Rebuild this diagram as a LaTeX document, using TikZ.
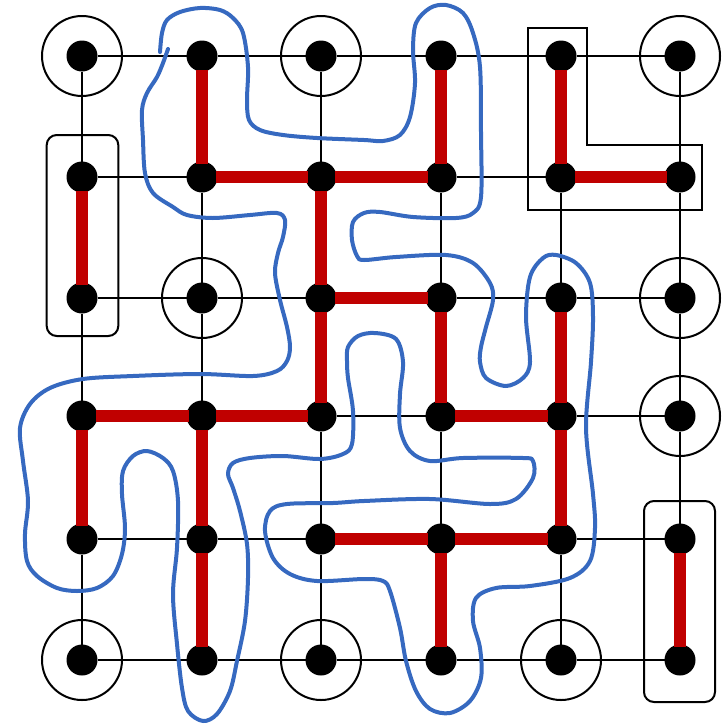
\documentclass[tikz,border=0pt]{standalone}
\definecolor{myred}{RGB}{192,0,0}
\definecolor{myblue}{RGB}{54,105,192}
\begin{document}
\begin{tikzpicture}[x=1pt,y=-1pt,
  dot/.style={circle,fill=black,inner sep=0pt,minimum size=31pt,outer sep=0pt},
  ring/.style={circle,draw=black,line width=2pt,inner sep=0pt,minimum size=80pt},
  gridline/.style={draw=black,line width=2pt},
  cutedge/.style={draw=myred,line width=12pt,shorten <=-2pt,shorten >=-2pt},
  boxline/.style={draw=black,line width=2pt},
  bluecurve/.style={draw=myblue,line width=4pt,line cap=round,line join=round}]
\useasboundingbox (0,0) rectangle (727,723);
% nodes
\foreach \x [count=\c from 0] in {82,202,321,441,561,680}{
  \foreach \y [count=\r from 0] in {56,177,298,416,539,660}{
    \node[dot] (n-\c-\r) at (\x,\y) {};
  }
}
% rings
\foreach \c/\r in {0/0,2/0,5/0,1/2,5/2,5/3,0/5,2/5,4/5}{
  \node[ring] (ring-\c-\r) at (n-\c-\r) {};
}
% grid
\foreach \c in {0,...,5}{
  \foreach \r in {0,...,4}{
    \pgfmathtruncatemacro\rn{\r+1}
    \draw[gridline] (n-\c-\r) -- (n-\c-\rn);
    \draw[gridline] (n-\r-\c) -- (n-\rn-\c);
  }
}
% boxes
\draw[boxline,rounded corners=10pt] (46.7,135) rectangle (118.3,336);
\draw[boxline,rounded corners=10pt] (644,501) rectangle (715,702);
\draw[boxline] (528,28) -- (587,28) -- (587,145) -- (702,145) -- (702,210) -- (528,210) -- cycle;
% red edges
\foreach \a/\b/\c/\d in {1/0/1/1, 1/1/2/1, 2/1/3/1, 3/0/3/1, 4/0/4/1, 4/1/5/1, 0/1/0/2, 2/1/2/2, 2/2/3/2, 3/2/3/3, 2/2/2/3, 0/3/1/3, 1/3/2/3, 0/3/0/4, 1/3/1/4, 1/4/1/5, 3/3/4/3, 4/2/4/3, 4/3/4/4, 2/4/3/4, 3/4/4/4, 3/4/3/5, 5/4/5/5}{
  \draw[cutedge] (n-\a-\b) -- (n-\c-\d);
}
% blue curve
\draw[bluecurve] plot[smooth,tension=0.55] coordinates {
(160,52) (162,33) (167,20) (180,12) (200,8) (220,10) (233,18) (243,33) (248,67) (247,100) (249,120) (260,130) (283,135) (317,138) (364,140) (383,141) (400,135) (410,117) (415,83) (413,50) (416,23) (430,8) (446,5) (463,13) (473,33) (480,67) (481,133) (481,197) (473,213) (456,218) (413,217) (380,212) (364,213) (353,222) (352,240) (357,256) (364,260) (396,257) (446,255) (473,263) (490,283) (493,300) (486,327) (481,347) (480,362) (486,378) (506,386) (523,378) (530,362) (526,317) (530,277) (543,258) (556,255) (576,263) (590,283) (593,317) (591,362) (586,428) (593,494) (595,528) (590,561) (570,578) (530,586) (496,588) (476,598) (473,621) (480,648) (481,678) (470,701) (450,713) (430,709) (416,691) (406,661) (400,628) (390,591) (383,581) (364,579) (317,581) (290,574) (273,558) (265,531) (270,511) (287,504) (333,503) (364,501) (430,499) (490,504) (516,499) (533,478) (533,461) (523,458) (463,458) (430,461) (410,451) (400,428) (400,394) (403,362) (396,339) (375,333) (358,336) (348,347) (347,361) (348,378) (353,411) (352,444) (343,454) (320,459) (283,456) (250,458) (233,463) (228,474) (233,488) (240,511) (247,544) (248,578) (245,621) (237,661) (230,691) (217,714) (203,721) (188,711) (182,688) (177,644) (173,594) (177,548) (178,501) (173,471) (163,458) (147,451) (133,456) (123,471) (122,494) (125,528) (122,554) (113,576) (97,588) (77,591) (57,588) (37,576) (27,561) (25,534) (28,501) (23,461) (20,428) (30,404) (50,388) (83,379) (133,376) (200,374) (253,376) (277,371) (287,361) (290,347) (287,327) (280,300) (275,273) (278,253) (283,237) (285,220) (277,213) (250,215) (213,218) (187,215) (173,207) (153,193) (145,173) (143,140) (142,110) (147,93) (157,77) (163,63) (168,49)
};
\end{tikzpicture}
\end{document}
